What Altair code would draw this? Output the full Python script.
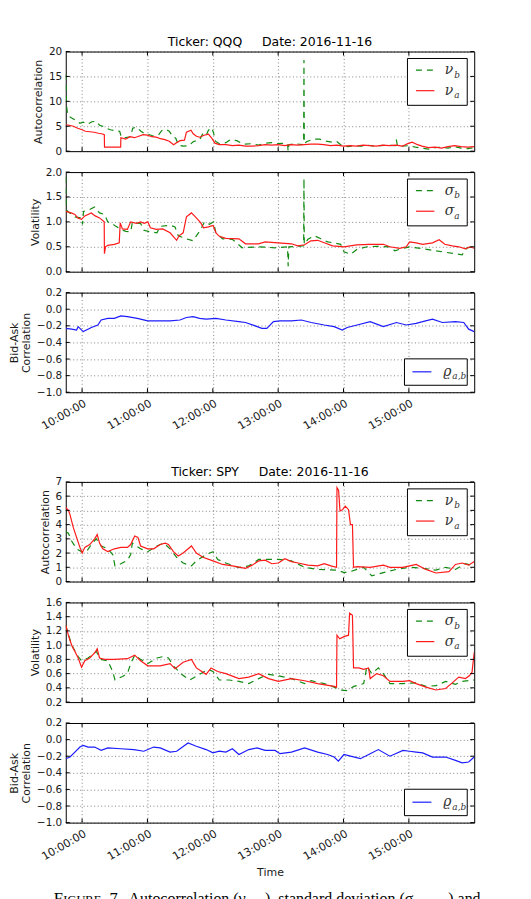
import altair as alt
import pandas as pd

# ---------------------------------------------------------------------------
# Time axis: minutes after midnight, trading window 09:45 -> 16:00
# ---------------------------------------------------------------------------
X_DOMAIN = [585, 960]
X_TICKS = [600, 660, 720, 780, 840, 900]          # 10:00:00 ... 15:00:00

# ---------------------------------------------------------------------------
# QQQ 2016-11-16   (time in minutes, value)
# ---------------------------------------------------------------------------
QQQ_NU_B = [(585, 15.5), (585.8, 9.0), (586.8, 7.2), (590, 6.7), (594, 6.2), (598, 5.6),
            (601, 5.8), (605, 5.4), (609, 5.9), (613, 6.0), (616, 5.2), (619, 5.0),
            (622, 4.6), (626, 4.3), (630, 4.1), (634.5, 4.0), (636, 2.8), (640, 2.7),
            (644.5, 2.9), (646.5, 4.6), (650, 4.8), (654, 4.0), (658, 3.4), (662, 3.3),
            (666, 3.0), (670, 3.2), (673, 4.1), (677, 4.4), (680, 4.0), (683, 3.0),
            (686, 2.6), (688.5, 1.2), (693, 1.0), (698, 1.1), (702, 1.9), (708, 2.3),
            (711, 3.6), (714, 3.2), (716, 4.2), (719, 4.7), (720.5, 3.8), (722.5, 2.0),
            (726, 1.5), (732, 1.7), (736, 2.3), (742, 2.1), (748, 1.4), (756, 1.5),
            (762, 1.2), (768, 1.6), (774, 1.7), (780, 1.5), (786, 1.6), (788.6, 1.4),
            (789.2, 0.0), (789.8, 1.3), (796, 1.5), (802, 1.3), (803.4, 1.4), (803.7, 18.3),
            (804.0, 1.5), (806, 1.9), (812, 2.4), (818, 2.4), (824, 2.0), (830, 1.8),
            (834, 1.9), (838, 1.2), (844, 0.9), (850, 1.1), (856, 1.0), (862, 1.2),
            (868, 1.0), (874, 1.1), (880, 1.2), (887.5, 1.1), (888.5, 2.3), (889.5, 1.1),
            (894, 1.0), (900, 1.1), (906, 0.8), (912, 0.6), (918, 0.4), (924, 0.7),
            (930, 0.8), (936, 0.6), (942, 0.9), (948, 0.6), (954, 0.5), (960, 0.7)]

QQQ_NU_A = [(585, 5.3), (588, 5.2), (592, 5.0), (596, 4.6), (600, 4.3), (603, 4.0),
            (607, 3.9), (611, 3.8), (615, 3.6), (618, 3.5), (620.4, 3.3), (620.6, 0.8),
            (628, 0.8), (635.4, 0.8), (635.6, 2.7), (640, 2.4), (644, 2.9), (648, 2.7),
            (652, 3.0), (656, 3.3), (660, 3.2), (664, 2.9), (668, 2.8), (672, 2.5),
            (676, 2.3), (680, 2.0), (684, 1.3), (686, 1.6), (690, 2.1), (694, 2.2),
            (695.8, 3.8), (700, 4.2), (702, 3.5), (705, 3.0), (708, 2.8), (712, 3.2),
            (716, 3.4), (719, 2.6), (722, 1.6), (726, 1.3), (732, 1.3), (738, 1.1),
            (744, 1.2), (750, 1.0), (756, 1.0), (762, 1.1), (768, 1.3), (774, 1.2),
            (780, 1.3), (786, 1.1), (792, 1.3), (798, 1.2), (804, 1.3), (810, 1.4),
            (816, 1.4), (822, 1.3), (828, 1.1), (834, 1.2), (840, 1.0), (846, 1.1),
            (852, 1.0), (858, 1.2), (864, 1.1), (870, 1.0), (876, 1.2), (882, 1.1),
            (888, 1.2), (894, 1.0), (899, 1.5), (903, 1.8), (908, 1.3), (912, 1.0),
            (918, 0.7), (924, 0.8), (930, 0.6), (936, 0.9), (942, 1.1), (948, 0.9),
            (954, 0.8), (960, 0.9)]

QQQ_SIG_B = [(585, 1.9), (585.3, 1.25), (587.4, 1.2), (593.4, 1.1), (599.5, 1.08),
             (600.4, 0.95), (601.3, 1.21), (607, 1.25), (611.5, 1.3), (616, 1.18),
             (620.5, 1.15), (623.6, 1.0), (626.6, 0.98), (631, 0.91), (635.6, 0.85),
             (640.1, 0.81), (644.6, 0.8), (646.1, 0.98), (653.7, 0.97), (656.7, 0.83),
             (662.7, 0.8), (668.7, 0.78), (671.7, 0.91), (680.8, 0.93), (685.3, 0.9),
             (688.3, 0.72), (695.8, 0.66), (701.9, 0.62), (704.9, 0.72), (707.9, 0.81),
             (712.4, 1.0), (716.9, 0.95), (720.5, 1.0), (722.9, 0.78), (729, 0.66),
             (738, 0.65), (747, 0.48), (762.1, 0.5), (777.2, 0.48), (788.6, 0.5),
             (789.2, 0.11), (789.8, 0.5), (798.3, 0.51), (803.4, 0.52), (803.7, 1.87),
             (804, 0.55), (807.3, 0.65), (813.3, 0.72), (819.3, 0.66), (825.4, 0.6),
             (837.4, 0.55), (840.4, 0.4), (846.4, 0.35), (852.5, 0.45), (861.5, 0.5),
             (870.5, 0.51), (882.6, 0.5), (887.1, 0.42), (891.6, 0.45), (900.7, 0.5),
             (912.7, 0.46), (921.7, 0.43), (930.8, 0.4), (942.8, 0.36), (948.9, 0.34),
             (953.4, 0.48), (960, 0.5)]

QQQ_SIG_A = [(585, 1.21), (590, 1.18), (593.4, 1.15), (596, 1.08), (599.5, 1.05),
             (602.5, 1.12), (608.5, 1.18), (612, 1.12), (616, 1.08), (620.3, 1.0),
             (620.5, 0.36), (621.5, 0.5), (623.6, 0.53), (629.6, 0.55), (634.1, 0.58),
             (635, 0.98), (637, 0.86), (641.6, 0.85), (644.6, 1.0), (650, 0.97),
             (653.7, 1.0), (657, 0.97), (660.3, 1.0), (662.7, 0.88), (668, 0.85),
             (674, 0.86), (680.8, 0.78), (684, 0.7), (686.8, 0.63), (689, 0.72),
             (692.8, 0.78), (695.8, 1.1), (700.4, 1.18), (704.9, 1.08), (709, 0.98),
             (711.5, 0.88), (716, 0.9), (720.2, 0.93), (722.9, 0.78), (726, 0.71),
             (732, 0.67), (744, 0.66), (750, 0.56), (762, 0.56), (768, 0.6), (780, 0.58),
             (792.2, 0.56), (798, 0.52), (804.3, 0.54), (810, 0.62), (816.3, 0.63),
             (822.3, 0.58), (830, 0.52), (840.4, 0.5), (852, 0.54), (864, 0.55),
             (876.6, 0.55), (882.6, 0.5), (891.6, 0.47), (897.6, 0.5), (900.7, 0.6),
             (906.7, 0.58), (912.7, 0.55), (921.7, 0.58), (927.8, 0.64), (933, 0.55),
             (939.8, 0.52), (945.8, 0.5), (951.9, 0.46), (956, 0.5), (960, 0.47)]

QQQ_RHO = [(585, -0.23), (590.4, -0.24), (594.9, -0.25), (596.4, -0.21), (598, -0.23),
           (601, -0.27), (604, -0.25), (608.5, -0.22), (614.5, -0.19), (617.5, -0.13),
           (623.6, -0.11), (629.6, -0.11), (635.6, -0.08), (641.6, -0.09), (650.7, -0.11),
           (660.3, -0.14), (668.7, -0.14), (680.8, -0.14), (689.8, -0.13), (695.8, -0.1),
           (701.9, -0.09), (707.9, -0.11), (713.9, -0.12), (722.9, -0.11), (732, -0.13),
           (744, -0.15), (750, -0.16), (759, -0.2), (765, -0.23), (769.6, -0.23),
           (775.7, -0.15), (781.7, -0.14), (792.2, -0.14), (801.3, -0.13), (810.3, -0.16),
           (822.3, -0.19), (831.4, -0.21), (838.9, -0.25), (843.4, -0.22), (852.5, -0.19),
           (864.5, -0.15), (876.6, -0.21), (888.6, -0.16), (897.6, -0.19), (906.7, -0.17),
           (912.7, -0.15), (921.7, -0.12), (930.8, -0.16), (942.8, -0.15), (950.4, -0.16),
           (954.9, -0.24), (960, -0.27)]

# ---------------------------------------------------------------------------
# SPY 2016-11-16
# ---------------------------------------------------------------------------
SPY_NU_B = [(585, 3.5), (587.4, 3.4), (590.4, 2.85), (594.9, 2.3), (599.5, 2.1),
            (604, 2.1), (608.5, 2.6), (613, 3.0), (617.5, 2.5), (623.6, 2.3),
            (628.1, 1.9), (630.2, 1.1), (635.6, 1.25), (641.6, 1.5), (644.6, 1.9),
            (646.1, 2.7), (653.7, 2.3), (660.3, 2.1), (668.7, 2.5), (674.8, 2.7),
            (680.8, 2.3), (686.8, 1.7), (692.8, 1.3), (700.4, 1.1), (704.9, 1.45),
            (713.9, 1.9), (720.2, 2.1), (724.5, 1.55), (732, 1.3), (744, 0.98),
            (753, 1.1), (762.1, 1.55), (768.1, 1.55), (780.2, 1.55), (792.2, 1.45),
            (804.3, 1.0), (816.3, 0.85), (834.4, 0.8), (840.4, 0.63), (846.4, 0.7),
            (858.5, 1.0), (866, 0.4), (876.6, 0.63), (888.6, 0.85), (900.7, 1.0),
            (912.7, 0.93), (924.8, 0.8), (933.8, 1.0), (942.8, 0.85), (951.9, 1.25),
            (960, 1.1)]

SPY_NU_A = [(585, 5.2), (587.4, 5.0), (588.9, 4.7), (591.9, 3.8), (594.9, 3.1),
            (598, 2.4), (600.1, 2.0), (602.5, 2.4), (607, 2.6), (611.5, 3.0),
            (613.9, 3.3), (616, 2.7), (619, 2.3), (623.6, 2.1), (629.6, 2.3),
            (635.6, 2.4), (641.6, 2.4), (644.6, 2.6), (648.3, 3.2), (651.3, 3.1),
            (653.7, 2.5), (660.3, 2.3), (665.7, 2.3), (671.7, 2.6), (676.3, 2.7),
            (679.3, 2.6), (683.8, 2.1), (688.3, 1.8), (692.8, 2.0), (700.4, 2.5),
            (704.9, 2.0), (710.9, 1.7), (720.2, 1.45), (729, 1.2), (738, 1.1),
            (750, 0.93), (756.1, 1.15), (762.1, 1.45), (768.1, 1.5), (774.2, 1.25),
            (780.2, 1.3), (786.2, 1.6), (792.2, 1.4), (798.3, 1.3), (807.3, 1.15),
            (816.3, 1.1), (822.3, 1.25), (828.4, 1.1), (833.6, 1.0), (834.0, 6.6),
            (835.5, 6.4), (836.8, 4.95), (839.2, 5.05), (841.6, 5.3), (844.6, 5.05),
            (846.4, 4.0), (848.2, 4.0), (849.2, 1.0), (852.5, 1.05), (864.5, 1.0),
            (876.6, 1.15), (882.6, 1.0), (894.6, 1.0), (900.7, 1.1), (906.7, 1.2),
            (915.7, 0.85), (924.8, 0.6), (936.8, 0.7), (942.8, 1.2), (948.9, 1.3),
            (954.9, 1.15), (960, 1.4)]

SPY_SIG_B = [(585, 1.28), (590.4, 1.0), (596.4, 0.84), (599.5, 0.78), (605.5, 0.82),
             (613, 0.91), (617.5, 0.8), (623.6, 0.78), (628.1, 0.63), (630.2, 0.51),
             (637.1, 0.56), (641.6, 0.6), (644.6, 0.74), (648.3, 0.86), (653.7, 0.8),
             (660.3, 0.74), (668.7, 0.82), (674.8, 0.84), (679.3, 0.82), (683.8, 0.71),
             (691.3, 0.59), (698.9, 0.51), (707.9, 0.59), (715.4, 0.66), (720.2, 0.63),
             (726, 0.51), (735, 0.51), (744, 0.49), (753, 0.46), (762.1, 0.53),
             (771.1, 0.59), (780.2, 0.57), (792.2, 0.53), (804.3, 0.46), (810.3, 0.5),
             (822.3, 0.46), (831.4, 0.41), (837.4, 0.37), (843.4, 0.36), (849.4, 0.42),
             (858.5, 0.46), (861.5, 0.7), (866, 0.6), (872, 0.68), (876.6, 0.6),
             (882.6, 0.46), (894.6, 0.46), (906.7, 0.47), (915.7, 0.42), (924.8, 0.43),
             (933.8, 0.49), (942.8, 0.45), (948.9, 0.49), (960, 0.51)]

SPY_SIG_A = [(585, 1.28), (587.4, 1.14), (590.4, 1.0), (593.4, 0.91), (596.4, 0.82),
             (599.5, 0.69), (602.5, 0.78), (607, 0.82), (611.5, 0.89), (613.9, 0.95),
             (616, 0.82), (620.5, 0.8), (629.6, 0.8), (641.6, 0.81), (648.3, 0.86),
             (653.7, 0.78), (660.3, 0.71), (671.7, 0.71), (680.8, 0.74), (685.3, 0.67),
             (692.8, 0.76), (700.4, 0.8), (704.9, 0.68), (713.9, 0.59), (718.4, 0.68),
             (724.5, 0.63), (732, 0.6), (744, 0.53), (753, 0.55), (762.1, 0.6),
             (771.1, 0.53), (780.2, 0.49), (792.2, 0.53), (804.3, 0.5), (816.3, 0.46),
             (831.4, 0.42), (833.6, 0.41), (834.0, 1.14), (836.5, 1.09), (840.4, 1.12),
             (844.6, 1.14), (845.6, 1.45), (848.2, 1.42), (849.2, 0.68), (854, 0.68),
             (858.5, 0.66), (863, 0.68), (864.5, 0.53), (870.5, 0.6), (876.6, 0.57),
             (882.6, 0.49), (894.6, 0.49), (900.7, 0.5), (906.7, 0.46), (915.7, 0.41),
             (924.8, 0.37), (933.8, 0.39), (939.8, 0.47), (945.8, 0.55), (951.9, 0.53),
             (955.5, 0.57), (958, 0.62), (960, 0.9)]

SPY_RHO = [(585, -0.23), (588.9, -0.21), (593.4, -0.15), (598, -0.09), (601, -0.07),
           (605.5, -0.09), (611.5, -0.09), (617.5, -0.13), (623.6, -0.1), (635.6, -0.11),
           (647.6, -0.12), (656.7, -0.14), (665.7, -0.09), (671.7, -0.1), (680.8, -0.15),
           (686.8, -0.14), (697.3, -0.04), (704.9, -0.08), (713.9, -0.12), (720.2, -0.16),
           (726, -0.14), (732, -0.15), (738, -0.11), (744, -0.18), (753, -0.12),
           (760.6, -0.1), (768.1, -0.13), (777.2, -0.13), (781.7, -0.17), (792.2, -0.15),
           (804.3, -0.1), (816.3, -0.15), (825.4, -0.18), (831.4, -0.21), (835.3, -0.26),
           (840.4, -0.18), (846.4, -0.2), (855.5, -0.23), (864.5, -0.17), (872, -0.12),
           (882.6, -0.2), (894.6, -0.13), (900.7, -0.14), (906.7, -0.15), (912.7, -0.16),
           (921.7, -0.21), (933.8, -0.21), (942.8, -0.25), (948.9, -0.28), (954.9, -0.27),
           (960, -0.21)]

# ---------------------------------------------------------------------------
# Axis settings per panel type
# ---------------------------------------------------------------------------
AC_QQQ_TICKS = [0, 5, 10, 15, 20]
AC_SPY_TICKS = [0, 1, 2, 3, 4, 5, 6, 7]
VOL_QQQ_TICKS = [0.0, 0.5, 1.0, 1.5, 2.0]
VOL_SPY_TICKS = [0.2, 0.4, 0.6, 0.8, 1.0, 1.2, 1.4, 1.6]
CORR_TICKS = [-1.0, -0.8, -0.6, -0.4, -0.2, 0.0, 0.2]

FONT = "DejaVu Sans"
MATH = "DejaVu Serif"
CAPTION_FONT = "Liberation Serif"
GREEN = "#118a11"
RED = "#ff1a1a"
BLUE = "#1c1cff"
DASH = [6, 5]
W, H = 410, 100
ONE = pd.DataFrame({"k": [0]})


def to_df(pairs):
    return pd.DataFrame(pairs, columns=["t", "v"])


def legend_layers(entries, box, rows, line_x, glyph_x, sub_x):
    x0, x1, y0, y1 = box
    out = [alt.Chart(ONE).mark_rect(fill="white", stroke="black", strokeWidth=1).encode(
        x=alt.value(x0), x2=alt.value(x1), y=alt.value(y0), y2=alt.value(y1))]
    for (glyph, sub, color, dash), ry in zip(entries, rows):
        rk = dict(color=color, strokeWidth=1.2)
        if dash:
            rk["strokeDash"] = dash
        out.append(alt.Chart(ONE).mark_rule(**rk).encode(
            x=alt.value(line_x[0]), x2=alt.value(line_x[1]), y=alt.value(ry)))
        out.append(alt.Chart(ONE).mark_text(
            text=glyph, font=MATH, fontStyle="italic", fontSize=14, color="#333333",
            align="left", baseline="alphabetic").encode(x=alt.value(glyph_x), y=alt.value(ry + 4)))
        out.append(alt.Chart(ONE).mark_text(
            text=sub, font=MATH, fontStyle="italic", fontSize=9, color="#333333",
            align="left", baseline="alphabetic").encode(x=alt.value(sub_x), y=alt.value(ry + 7.5)))
    return out


def panel(series, y_domain, y_ticks, y_fmt, y_title, entries, legend_bottom=False,
          x_labels=False, x_title=None, extra=()):
    xs = alt.Scale(domain=X_DOMAIN, nice=False, zero=False)
    ys = alt.Scale(domain=y_domain, nice=False, zero=False)
    if x_labels:
        xa = alt.Axis(values=X_TICKS, grid=True, ticks=False, domain=False, labelOverlap=False,
                      labelExpr="(datum.value / 60) + ':00:00'", labelAngle=-30,
                      labelAlign="right", labelBaseline="top", labelPadding=5,
                      labelFontSize=11, title=x_title, titlePadding=5)
    else:
        xa = alt.Axis(values=X_TICKS, grid=True, ticks=False, domain=False,
                      labels=False, title=None)
    ya = alt.Axis(values=y_ticks, format=y_fmt, grid=True, ticks=False, domain=False,
                  labelOverlap=False, labelPadding=4, title=y_title, titlePadding=5,
                  titleLineHeight=12)

    layers = []
    for pairs, color, dash in series:
        mk = dict(color=color, strokeWidth=1.2, clip=True)
        if dash:
            mk["strokeDash"] = dash
        layers.append(alt.Chart(to_df(pairs)).mark_line(**mk).encode(
            x=alt.X("t:Q", scale=xs, axis=xa),
            y=alt.Y("v:Q", scale=ys, axis=ya)))

    # inward tick marks on all four sides
    xt = pd.DataFrame({"t": X_TICKS})
    yt = pd.DataFrame({"v": y_ticks})
    for a, b in ((0, 4), (H - 4, H)):
        layers.append(alt.Chart(xt).mark_rule(color="black", strokeWidth=1).encode(
            x=alt.X("t:Q", scale=xs, axis=xa), y=alt.value(a), y2=alt.value(b)))
    for a, b in ((0, 4), (W - 4, W)):
        layers.append(alt.Chart(yt).mark_rule(color="black", strokeWidth=1).encode(
            y=alt.Y("v:Q", scale=ys, axis=ya), x=alt.value(a), x2=alt.value(b)))

    if legend_bottom:
        layers += legend_layers(entries, (340, 403, 66.5, 93), [79.5], (348, 367), 379, 388)
    else:
        layers += legend_layers(entries, (343, 403, 7, 54), [18.7, 39.3], (351.5, 370), 380.5, 390)
    layers += list(extra)
    return alt.layer(*layers).properties(width=W, height=H)


def title_text(txt):
    return alt.Chart(ONE).mark_text(text=txt, font=FONT, fontSize=12.5, color="black",
                                    align="center", baseline="middle").encode(
        x=alt.value(W / 2), y=alt.value(-10))


NBSP = "\u00a0"
QQQ_TITLE = "Ticker: QQQ" + NBSP * 5 + "Date: 2016-11-16"
SPY_TITLE = "Ticker: SPY" + NBSP * 5 + "Date: 2016-11-16"

# invisible frame that pins the page origin and width
anchor = alt.Chart(ONE).mark_rect(opacity=0).encode(
    x=alt.value(-65), x2=alt.value(466), y=alt.value(-49), y2=alt.value(-47))

# caption under the figure (partly below the page edge)
CAPTION = [("F", -12, 16.5, 0), ("IGURE", -2.5, 12.5, 0), ("7.", 44, 16.5, 0),
           ("Autocorrelation (\u03bd", 63, 16, 0), ("a,b", 184, 11, 4),
           ("), standard deviation (\u03c3", 200, 16, 0), ("a,b", 368, 11, 4),
           (") and", 384, 16, 0)]
caption_layers = []
for txt, cx, fs, dy in CAPTION:
    caption_layers.append(alt.Chart(ONE).mark_text(
        text=txt, font=CAPTION_FONT, fontSize=fs, color="black", align="left",
        baseline="alphabetic").encode(x=alt.value(cx), y=alt.value(182 + dy)))

NU = [("\u03bd", "b", GREEN, DASH), ("\u03bd", "a", RED, None)]
SIG = [("\u03c3", "b", GREEN, DASH), ("\u03c3", "a", RED, None)]
RHO = [("\u03f1", "a,b", BLUE, None)]

p1 = panel([(QQQ_NU_B, GREEN, DASH), (QQQ_NU_A, RED, None)], [0, 20], AC_QQQ_TICKS, "d",
           "Autocorrelation", NU, extra=[title_text(QQQ_TITLE), anchor])
p2 = panel([(QQQ_SIG_B, GREEN, DASH), (QQQ_SIG_A, RED, None)], [0, 2], VOL_QQQ_TICKS, ".1f",
           "Volatility", SIG)
p3 = panel([(QQQ_RHO, BLUE, None)], [-1, 0.2], CORR_TICKS, ".1f",
           ["Bid-Ask", "Correlation"], RHO, legend_bottom=True, x_labels=True)

spacer = alt.Chart(ONE).mark_text(text="").encode(
    x=alt.value(0), y=alt.value(0)).properties(
    width=W, height=48, view=alt.ViewBackground(stroke="transparent"))

p4 = panel([(SPY_NU_B, GREEN, DASH), (SPY_NU_A, RED, None)], [0, 7], AC_SPY_TICKS, "d",
           "Autocorrelation", NU, extra=[title_text(SPY_TITLE)])
p5 = panel([(SPY_SIG_B, GREEN, DASH), (SPY_SIG_A, RED, None)], [0.2, 1.6], VOL_SPY_TICKS, ".1f",
           "Volatility", SIG)
p6 = panel([(SPY_RHO, BLUE, None)], [-1, 0.2], CORR_TICKS, ".1f",
           ["Bid-Ask", "Correlation"], RHO, legend_bottom=True, x_labels=True,
           x_title="Time", extra=caption_layers)

chart = alt.vconcat(p1, p2, p3, spacer, p4, p5, p6, spacing=21, bounds="flush").properties(
    padding=0
).configure_axis(
    labelFont=FONT, titleFont=FONT, labelFontSize=10.5, titleFontSize=11,
    titleFontWeight="normal", labelColor="#1a1a1a", titleColor="#1a1a1a",
    gridColor="black", gridDash=[1, 2.5], gridOpacity=0.7, gridWidth=0.7
).configure_view(stroke="black", strokeWidth=1)

chart.save("out.html", embed_options={"renderer": "svg", "actions": False})
